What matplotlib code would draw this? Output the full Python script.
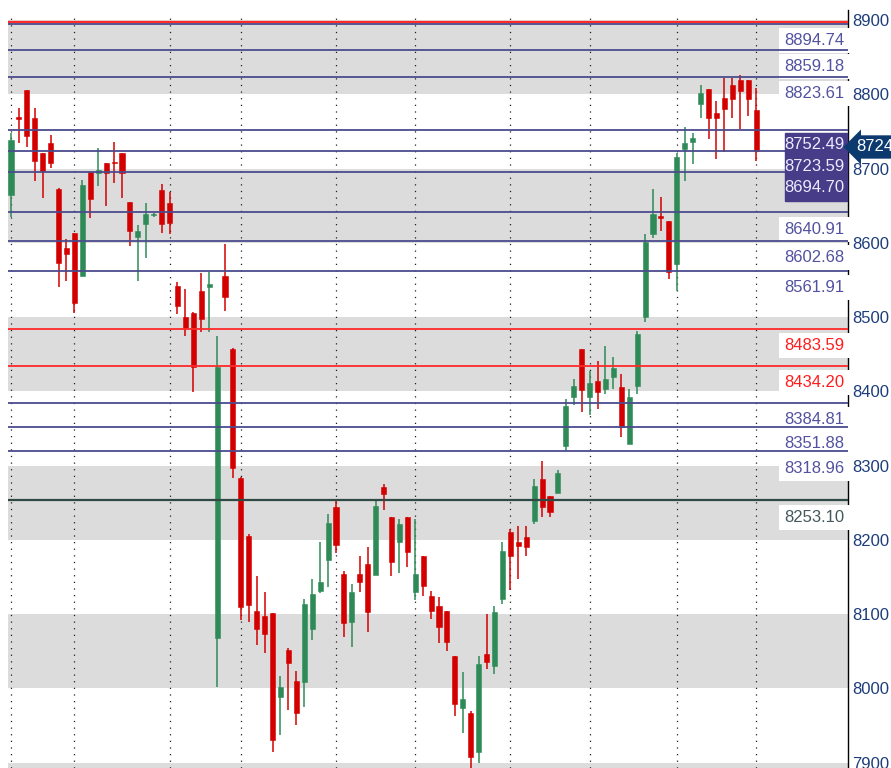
import matplotlib
matplotlib.use("Agg")
import matplotlib.pyplot as plt
from matplotlib.patches import Rectangle
import numpy as np

# daily candles
opens = [8665, 8769, 8806, 8768, 8721, 8734, 8672, 8593, 8613, 8555,
         8695, 8694, 8707, 8709, 8721, 8655, 8608, 8625, 8637, 8671,
         8654, 8542, 8500, 8505, 8535, 8540, 8068, 8555, 8457, 8283,
         8205, 8104, 8097, 8101, 7988, 8052, 8010, 8008, 8080, 8131,
         8173, 8244, 8154, 8089, 8154, 8167, 8153, 8271, 8231, 8197,
         8231, 8130, 8178, 8124, 8111, 8104, 8043, 7973, 7967, 7914,
         8046, 8030, 8120, 8210, 8197, 8204, 8225, 8282, 8259, 8263,
         8326, 8392, 8457, 8392, 8414, 8403, 8419, 8406, 8329, 8407,
         8500, 8612, 8636, 8629, 8571, 8726, 8736, 8787, 8807, 8775,
         8795, 8812, 8819, 8819, 8779]
highs = [8748, 8781, 8806, 8781, 8721, 8745, 8674, 8605, 8613, 8685,
         8695, 8728, 8707, 8736, 8721, 8655, 8624, 8654, 8640, 8679,
         8668, 8547, 8538, 8507, 8559, 8561, 8474, 8598, 8458, 8284,
         8208, 8151, 8130, 8101, 8016, 8054, 8023, 8120, 8147, 8197,
         8235, 8254, 8158, 8140, 8178, 8190, 8255, 8275, 8231, 8228,
         8231, 8228, 8178, 8131, 8123, 8104, 8043, 8022, 7970, 8044,
         8100, 8111, 8197, 8214, 8218, 8218, 8282, 8306, 8259, 8294,
         8390, 8417, 8457, 8427, 8441, 8461, 8446, 8423, 8403, 8481,
         8612, 8672, 8662, 8629, 8721, 8756, 8748, 8812, 8807, 8791,
         8822, 8822, 8826, 8819, 8808]
lows = [8635, 8734, 8729, 8683, 8660, 8701, 8540, 8548, 8505, 8555,
        8633, 8676, 8650, 8680, 8660, 8596, 8548, 8579, 8635, 8613,
        8612, 8504, 8474, 8399, 8480, 8480, 8002, 8508, 8283, 8092,
        8089, 8058, 8047, 7914, 7937, 7971, 7951, 7975, 8065, 8128,
        8136, 8182, 8069, 8056, 8130, 8076, 8153, 8240, 8151, 8155,
        8163, 8119, 8124, 8093, 8061, 8050, 7963, 7940, 7890, 7900,
        8026, 8019, 8113, 8132, 8147, 8178, 8221, 8231, 8231, 8263,
        8319, 8381, 8372, 8368, 8376, 8396, 8403, 8338, 8329, 8396,
        8493, 8606, 8616, 8551, 8535, 8683, 8706, 8768, 8740, 8713,
        8722, 8768, 8753, 8771, 8710]
closes = [8738, 8767, 8744, 8710, 8697, 8707, 8573, 8585, 8519, 8678,
          8659, 8698, 8694, 8707, 8694, 8616, 8616, 8639, 8638, 8625,
          8627, 8515, 8485, 8433, 8497, 8544, 8433, 8527, 8297, 8109,
          8112, 8080, 8073, 7930, 8002, 8034, 7967, 8113, 8127, 8143,
          8223, 8193, 8088, 8130, 8143, 8103, 8245, 8262, 8170, 8221,
          8183, 8154, 8138, 8104, 8082, 8062, 7979, 7985, 7907, 8033,
          8035, 8103, 8185, 8178, 8192, 8190, 8272, 8244, 8237, 8290,
          8380, 8407, 8402, 8411, 8399, 8417, 8431, 8352, 8392, 8477,
          8601, 8639, 8634, 8561, 8715, 8734, 8741, 8802, 8768, 8768,
          8780, 8794, 8804, 8794, 8724]

# period separators (candle index)
separators = [0, 8, 20, 29, 41, 51, 63, 73, 84, 94]

# horizontal levels
levels = [8894.74, 8859.18, 8823.61, 8752.49, 8723.59, 8694.70,
          8640.91, 8602.68, 8561.91, 8483.59, 8434.20, 8384.81,
          8351.88, 8318.96, 8253.10]
level_kind = ['blue', 'blue', 'blue', 'blue', 'blue', 'blue',
              'blue', 'blue', 'blue', 'red', 'red', 'blue',
              'blue', 'blue', 'dark']
highlighted = [8752.49, 8723.59, 8694.70]
top_red = 8897
last_price = "8724"

yticks = list(range(7900, 9000, 100))
bands = [(8800, 8900), (8600, 8700), (8400, 8500), (8200, 8300),
         (8000, 8100), (7800, 7900)]

line_col = {'blue': '#4b4b8e', 'red': '#ff2a2a', 'dark': '#2f4a44'}
text_col = {'blue': '#5252a0', 'red': '#ff1c1c', 'dark': '#45595a'}
up_col, down_col = '#2e8b57', '#d40000'

plt.rcParams['font.family'] = ['Liberation Sans Narrow', 'Liberation Sans', 'DejaVu Sans']
fs = 12

fig = plt.figure(figsize=(8.91, 7.68), dpi=100)
ax = fig.add_axes([8 / 891, 0, 840 / 891, 758 / 768])
ax.set_ylim(7892.6, 8913.5)
ax.set_xlim(-0.38, 105.6)

for lo, hi in bands:
    ax.axhspan(lo, hi, color='#dcdcdc', lw=0, zorder=0)

for i in separators:
    ax.axvline(i, ymax=0.996, color='#1e1e1e', lw=0.9, ls=(0, (1, 4.3)), zorder=1)

x = np.arange(len(opens))
o = np.array(opens)
c = np.array(closes)
up = c >= o
cols = np.where(up, up_col, down_col)
ax.vlines(x, lows, highs, colors=cols, lw=1.1, zorder=2)
body = np.abs(c - o)
body = np.maximum(body, 2)
ax.bar(x, body, bottom=np.minimum(o, c), width=0.64, color=cols,
       edgecolor=cols, lw=0.4, zorder=3)

# levels
ax.axhline(top_red, color='#ff2a2a', lw=1.6, zorder=6)
for v, k in zip(levels, level_kind):
    ax.axhline(v, color=line_col[k], lw=1.3 if k != 'dark' else 1.6, zorder=6)
    if v in highlighted:
        ax.annotate(f"{v:.2f}", xy=(1, v), xycoords=('axes fraction', 'data'),
                    xytext=(-2.5, -11), textcoords='offset points',
                    ha='right', va='center', fontsize=fs, color='#ececff',
                    zorder=9)
    else:
        ax.annotate(f"{v:.2f}", xy=(1, v), xycoords=('axes fraction', 'data'),
                    xytext=(-2.5, -12), textcoords='offset points',
                    ha='right', va='center', fontsize=fs, color=text_col[k],
                    bbox=dict(boxstyle='square,pad=0.3', fc='white', ec='none'),
                    zorder=5)

# highlighted block behind selected labels
trans = ax.get_yaxis_transform()
ax.add_patch(Rectangle((0.925, highlighted[-1] - 38), 0.074,
                       highlighted[0] - highlighted[-1] + 33,
                       transform=trans, fc='#463c88', ec='#463c88',
                       zorder=8, clip_on=False))

# last price pennant
ax.annotate(last_price, xy=(1, float(last_price) + 5), xycoords=('axes fraction', 'data'),
            xytext=(6, 0), textcoords='offset points', ha='left', va='center',
            fontsize=fs, color='white', annotation_clip=False,
            bbox=dict(boxstyle='larrow,pad=0.25', fc='#0c3a6e', ec='none'),
            zorder=10)

ax.yaxis.tick_right()
ax.set_yticks(yticks)
ax.tick_params(axis='y', length=0, pad=3, labelsize=fs, labelcolor='#1d3d7a')
ax.set_xticks([])
for s in ['left', 'top', 'bottom']:
    ax.spines[s].set_visible(False)
ax.spines['right'].set_color('black')
ax.spines['right'].set_linewidth(1)

fig.savefig('out.png', dpi=100)
